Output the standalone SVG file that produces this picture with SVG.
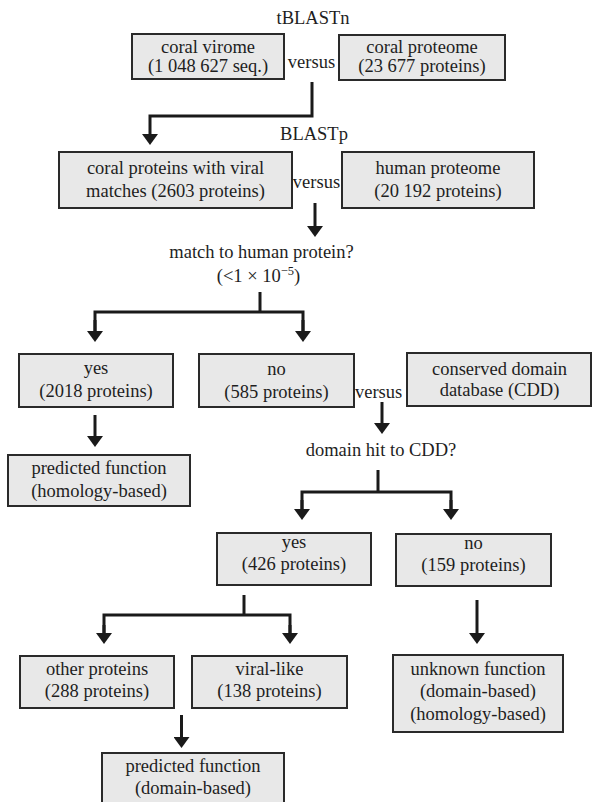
<svg xmlns="http://www.w3.org/2000/svg" width="593" height="802" viewBox="0 0 593 802">
<defs>
<style>
.box{fill:#e8e8e8;stroke:#2a2a2a;stroke-width:2}
text{font-family:"Liberation Serif","Times New Roman",serif;font-size:18.5px;fill:#1e1e1e;text-anchor:middle}
.conn{fill:none;stroke:#1a1a1a;stroke-width:3;stroke-linejoin:miter}
</style>
<marker id="ah" viewBox="0 0 11 16" refX="2" refY="8" markerWidth="11" markerHeight="16" markerUnits="userSpaceOnUse" orient="auto">
<path d="M0,0 L11,8 L0,16 z" fill="#1a1a1a"/>
</marker>
</defs>
<rect width="593" height="802" fill="#ffffff"/>

<g id="labels">
<text x="313" y="24">tBLASTn</text>
<text x="311.5" y="68">versus</text>
<text x="314" y="140">BLASTp</text>
<text x="316.5" y="188">versus</text>
<text x="261.5" y="258">match to human protein?</text>
<text x="258.5" y="282">(&lt;1 × 10<tspan font-size="12.5" dy="-7">−5</tspan><tspan dy="7">)</tspan></text>
<text x="378.6" y="398">versus</text>
<text x="381" y="456">domain hit to CDD?</text>
</g>

<g id="n-virome"><rect class="box" x="132" y="34" width="152" height="45"/><text x="208" y="53">coral virome</text><text x="208" y="71.5">(1 048 627 seq.)</text></g>
<g id="n-coral-proteome"><rect class="box" x="339" y="35" width="166" height="45"/><text x="422" y="53">coral proteome</text><text x="422" y="72">(23 677 proteins)</text></g>
<g id="n-viral-matches"><rect class="box" x="59" y="152" width="233" height="56"/><text x="175.5" y="174">coral proteins with viral</text><text x="175.5" y="197">matches (2603 proteins)</text></g>
<g id="n-human-proteome"><rect class="box" x="342" y="152" width="192" height="56"/><text x="438" y="174">human proteome</text><text x="438" y="197">(20 192 proteins)</text></g>
<g id="n-yes-2018"><rect class="box" x="19" y="354" width="154" height="53"/><text x="96" y="374">yes</text><text x="96" y="397">(2018 proteins)</text></g>
<g id="n-no-585"><rect class="box" x="199" y="354" width="155" height="53"/><text x="276.5" y="375">no</text><text x="276.5" y="398">(585 proteins)</text></g>
<g id="n-cdd"><rect class="box" x="407" y="353" width="184" height="53"/><text x="499.5" y="375">conserved domain</text><text x="499.5" y="396">database (CDD)</text></g>
<g id="n-pred-homology"><rect class="box" x="8" y="455" width="182" height="51"/><text x="99" y="474">predicted function</text><text x="99" y="497">(homology-based)</text></g>
<g id="n-yes-426"><rect class="box" x="217" y="533" width="154" height="52"/><text x="294" y="548">yes</text><text x="294" y="570">(426 proteins)</text></g>
<g id="n-no-159"><rect class="box" x="396" y="534" width="155" height="52"/><text x="473.5" y="549">no</text><text x="473.5" y="571">(159 proteins)</text></g>
<g id="n-other"><rect class="box" x="20" y="656" width="154" height="52"/><text x="97" y="675">other proteins</text><text x="97" y="697">(288 proteins)</text></g>
<g id="n-viral-like"><rect class="box" x="192" y="656" width="155" height="52"/><text x="269.5" y="675">viral-like</text><text x="269.5" y="697">(138 proteins)</text></g>
<g id="n-unknown"><rect class="box" x="393" y="655" width="170" height="77"/><text x="478" y="675">unknown function</text><text x="478" y="697">(domain-based)</text><text x="478" y="720">(homology-based)</text></g>
<g id="n-pred-domain"><rect class="box" x="102" y="753" width="182" height="55"/><text x="193" y="772">predicted function</text><text x="193" y="794">(domain-based)</text></g>

<g id="connectors">
<polyline class="conn" points="312,82 312,116 150,116 150,136" marker-end="url(#ah)"/>
<polyline class="conn" points="315,203 315,228" marker-end="url(#ah)"/>
<polyline class="conn" points="260,292 260,312"/>
<polyline class="conn" points="95,333 95,312 303,312 303,333" />
<line class="conn" x1="95" y1="320" x2="95" y2="333" marker-end="url(#ah)"/>
<line class="conn" x1="303" y1="320" x2="303" y2="333" marker-end="url(#ah)"/>
<line class="conn" x1="95" y1="415" x2="95" y2="438" marker-end="url(#ah)"/>
<line class="conn" x1="382" y1="402" x2="382" y2="425" marker-end="url(#ah)"/>
<polyline class="conn" points="378,470 378,492"/>
<polyline class="conn" points="302,511 302,492 451,492 451,511"/>
<line class="conn" x1="302" y1="500" x2="302" y2="511" marker-end="url(#ah)"/>
<line class="conn" x1="451" y1="500" x2="451" y2="511" marker-end="url(#ah)"/>
<polyline class="conn" points="244,595 244,615"/>
<polyline class="conn" points="104,635 104,615 290,615 290,635"/>
<line class="conn" x1="104" y1="625" x2="104" y2="635" marker-end="url(#ah)"/>
<line class="conn" x1="290" y1="625" x2="290" y2="635" marker-end="url(#ah)"/>
<line class="conn" x1="477" y1="600" x2="477" y2="635" marker-end="url(#ah)"/>
<line class="conn" x1="181.5" y1="715" x2="181.5" y2="739" marker-end="url(#ah)"/>
</g>
</svg>
